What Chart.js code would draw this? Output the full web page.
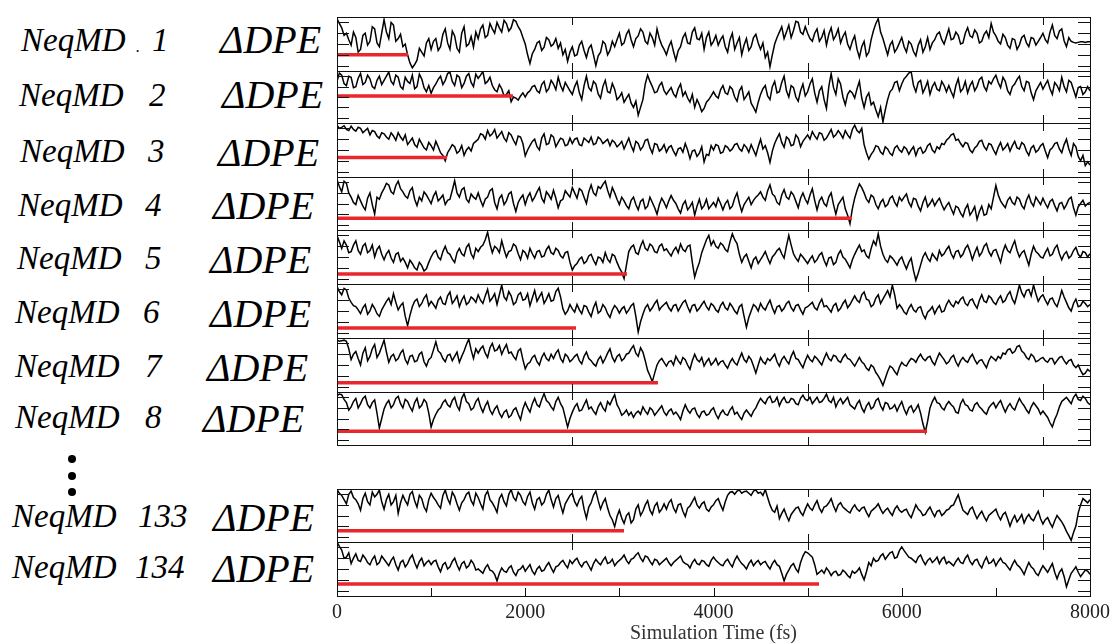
<!DOCTYPE html>
<html><head><meta charset="utf-8">
<script src="https://cdn.jsdelivr.net/npm/chart.js@4.4.1/dist/chart.umd.min.js"></script>
<style>
html,body{margin:0;padding:0;background:#fff;width:1112px;height:644px;overflow:hidden;}
#root{position:relative;width:1112px;height:644px;}
canvas{position:absolute;}
.lab{position:absolute;font-family:"Liberation Serif","Times New Roman",serif;font-style:italic;color:#000;line-height:1;white-space:nowrap;}
.dot{position:absolute;width:8px;height:8px;border-radius:50%;background:#000;}
</style></head><body>
<div id="root"></div>
<script>
// ---------- data ----------
const times = [
0,50,100,150,200,250,300,350,400,450,
500,550,600,650,700,750,800,850,900,950,
1000,1050,1100,1150,1200,1250,1300,1350,1400,1450,
1500,1550,1600,1650,1700,1750,1800,1850,1900,1950,
2000,2050,2100,2150,2200,2250,2300,2350,2400,2450,
2500,2550,2600,2650,2700,2750,2800,2850,2900,2950,
3000,3050,3100,3150,3200,3250,3300,3350,3400,3450,
3500,3550,3600,3650,3700,3750,3800,3850,3900,3950,
4000,4050,4100,4150,4200,4250,4300,4350,4400,4450,
4500,4550,4600,4650,4700,4750,4800,4850,4900,4950,
5000,5050,5100,5150,5200,5250,5300,5350,5400,5450,
5500,5550,5600,5650,5700,5750,5800,5850,5900,5950,
6000,6050,6100,6150,6200,6250,6300,6350,6400,6450,
6500,6550,6600,6650,6700,6750,6800,6850,6900,6950,
7000,7050,7100,7150,7200,7250,7300,7350,7400,7450,
7500,7550,7600,7650,7700,7750,7800,7850,7900,7950,
8000];
const midTimes = [
25,75,125,175,225,275,325,375,425,475,
525,575,625,675,725,775,825,875,925,975,
1025,1075,1125,1175,1225,1275,1325,1375,1425,1475,
1525,1575,1625,1675,1725,1775,1825,1875,1925,1975,
2025,2075,2125,2175,2225,2275,2325,2375,2425,2475,
2525,2575,2625,2675,2725,2775,2825,2875,2925,2975,
3025,3075,3125,3175,3225,3275,3325,3375,3425,3475,
3525,3575,3625,3675,3725,3775,3825,3875,3925,3975,
4025,4075,4125,4175,4225,4275,4325,4375,4425,4475,
4525,4575,4625,4675,4725,4775,4825,4875,4925,4975,
5025,5075,5125,5175,5225,5275,5325,5375,5425,5475,
5525,5575,5625,5675,5725,5775,5825,5875,5925,5975,
6025,6075,6125,6175,6225,6275,6325,6375,6425,6475,
6525,6575,6625,6675,6725,6775,6825,6875,6925,6975,
7025,7075,7125,7175,7225,7275,7325,7375,7425,7475,
7525,7575,7625,7675,7725,7775,7825,7875,7925,7975];

const runLabels = ["NeqMD","NeqMD","NeqMD","NeqMD","NeqMD","NeqMD","NeqMD","NeqMD","NeqMD","NeqMD"];
const runIds = ["1","2","3","4","5","6","7","8","133","134"];
const quantityLabel = "\u0394DPE";

const dpe1 = [
97,80,70,48,62,40,70,55,78,45,
95,60,85,60,45,30,6,20,35,52,
40,60,45,78,40,65,35,82,50,44,
60,85,66,78,90,72,88,80,92,75,
50,14,40,55,44,58,50,42,30,18,
45,30,55,25,48,10,35,50,38,45,
70,52,76,45,65,72,50,62,78,48,
30,55,20,45,70,50,80,58,40,72,
55,48,65,35,70,52,30,60,45,68,
40,25,8,50,72,60,85,75,90,68,
70,55,78,62,48,80,66,52,72,40,
65,25,55,35,75,97,60,30,55,42,
62,35,50,28,58,45,40,58,72,50,
78,60,66,52,80,62,70,55,74,88,
65,50,62,42,58,48,66,45,60,55,
70,52,85,60,78,45,55,52,54,53,
54];
const dpe1Mid = [
88,66,58,72,35,66,48,82,52,70,
72,90,55,68,50,15,12,42,28,60,
55,38,68,52,74,42,70,46,64,72,
78,62,88,70,80,94,74,95,82,62,
30,32,52,38,62,46,60,52,40,35,
28,48,38,42,30,28,55,30,55,58,
48,68,58,60,78,55,70,48,60,40,
45,36,38,62,52,72,60,70,62,48,
66,58,45,58,40,62,48,38,62,52,
52,35,30,62,82,72,62,92,72,82,
60,70,55,75,68,58,78,64,50,55,
40,45,28,58,88,72,45,48,35,52,
45,55,36,48,35,62,52,68,58,64,
58,72,50,70,65,76,52,68,62,72,
55,68,48,60,40,62,52,62,48,62,
58,72,66,74,56,62,53,53,54,54];
const dpe2 = [
80,92,72,88,70,95,78,85,66,90,
82,98,74,88,65,80,92,70,85,60,
57,75,90,82,98,72,88,76,95,70,
86,99,80,72,60,66,55,41,48,52,
50,62,72,58,80,66,75,88,62,70,
55,80,45,90,62,75,48,82,58,65,
50,40,55,30,15,45,92,70,60,78,
55,68,50,75,60,40,30,35,28,45,
60,48,72,55,65,42,70,52,38,21,
55,72,45,80,60,90,50,68,42,75,
60,85,40,70,28,95,55,75,35,62,
48,80,30,58,40,12,2,45,65,80,
75,90,99,60,82,68,55,78,62,72,
72,50,85,66,58,80,70,88,62,75,
92,68,80,55,75,90,62,78,45,70,
65,82,55,72,88,60,78,50,70,60,
62];
const dpe2Mid = [
96,76,90,68,86,74,92,70,82,74,
90,80,92,70,88,76,66,94,68,72,
68,84,74,95,80,92,68,90,78,94,
92,76,88,64,74,52,62,50,44,58,
58,70,62,74,60,82,64,72,78,62,
70,58,72,68,80,56,70,60,76,45,
58,48,38,42,30,75,80,58,72,62,
62,56,66,52,48,55,45,22,40,52,
52,64,58,70,50,62,45,60,30,40,
66,52,70,58,78,62,72,50,62,52,
75,58,62,45,70,68,85,50,55,58,
66,48,50,35,25,30,25,60,78,62,
85,96,72,78,58,80,70,65,80,60,
60,72,60,80,72,62,84,70,80,85,
78,88,62,70,84,70,80,58,62,78,
74,66,78,62,70,82,64,68,55,70];
const dpe3 = [
96,92,88,94,85,90,86,78,84,72,
80,70,76,82,68,60,72,55,62,50,
58,66,45,30,52,56,48,40,55,62,
70,78,86,80,72,84,66,78,60,74,
39,58,70,50,80,62,74,64,70,60,
62,72,58,68,74,62,70,66,58,64,
60,52,72,48,62,56,70,44,60,52,
46,58,40,54,62,34,50,44,28,40,
50,58,46,55,52,62,48,55,60,40,
70,58,27,62,80,55,70,60,72,66,
78,84,70,80,72,88,78,80,86,72,
96,82,60,33,48,56,42,52,40,58,
46,52,50,40,55,48,62,45,52,60,
72,80,70,56,62,45,58,68,50,60,
42,64,55,48,66,52,60,40,58,50,
62,36,54,64,45,70,40,56,30,21,
22];
const dpe3Mid = [
90,95,86,88,92,82,90,86,76,82,
74,82,68,74,78,66,60,70,54,64,
50,56,40,45,60,44,58,50,48,66,
80,70,76,88,78,72,82,68,76,62,
50,66,56,72,60,78,56,72,58,72,
70,60,72,64,60,74,62,70,68,56,
66,62,58,66,50,68,54,62,48,60,
55,48,52,46,50,48,38,56,42,58,
60,44,58,48,60,52,60,46,50,56,
52,45,48,72,64,74,58,78,56,72,
70,76,82,68,80,74,86,72,78,88,
86,90,45,42,58,46,56,44,54,50,
56,42,56,52,44,58,50,56,62,68,
78,68,62,64,50,54,66,56,62,50,
55,50,62,58,54,64,48,54,46,58,
48,50,62,52,60,52,62,38,40,28];
const dpe4 = [
95,72,88,62,48,55,38,70,30,58,
78,85,68,92,72,60,80,46,55,66,
50,72,60,48,58,93,62,80,52,62,
70,45,62,78,40,66,55,72,35,60,
48,70,62,80,52,66,75,42,58,68,
80,60,74,50,85,65,78,92,62,70,
48,55,40,62,38,58,45,52,30,60,
42,65,50,32,55,44,28,58,46,40,
52,60,38,56,45,70,35,55,48,62,
72,56,85,64,48,76,58,66,42,70,
50,78,38,62,45,70,30,55,40,12,
60,87,70,52,62,40,58,48,64,45,
55,68,44,58,36,62,50,46,60,38,
52,30,42,25,48,35,20,45,30,40,
84,55,42,62,48,58,40,66,45,55,
60,42,58,36,52,48,62,28,50,45,
52];
const dpe4Mid = [
82,92,70,52,65,45,60,48,62,70,
88,72,84,78,64,74,58,62,72,58,
64,55,66,56,75,70,76,58,68,58,
56,58,74,52,60,48,68,50,52,66,
62,55,72,60,72,58,60,55,74,62,
70,78,62,72,70,82,86,75,80,58,
62,46,56,48,54,40,62,42,48,52,
55,56,40,48,38,52,45,40,58,46,
44,50,50,40,60,50,48,62,56,66,
62,74,68,52,66,62,72,54,60,58,
66,56,55,50,62,48,48,62,28,40,
75,80,58,66,48,52,44,60,52,62,
62,52,60,45,52,44,58,54,48,46,
40,45,32,40,28,44,35,28,48,62,
66,48,56,52,62,46,56,52,62,48,
50,54,46,50,40,58,42,44,56,50];
const dpe5 = [
90,66,72,60,80,55,75,62,50,70,
45,62,40,58,48,30,38,26,34,28,
50,62,45,70,55,40,66,52,74,48,
60,72,96,58,66,80,50,62,70,45,
58,66,48,62,52,70,55,62,48,60,
26,38,50,42,55,36,48,58,40,52,
30,10,60,72,55,80,62,70,58,74,
65,52,68,74,60,72,13,40,70,90,
80,66,72,60,93,75,40,55,30,50,
45,60,38,55,66,48,90,56,42,50,
38,52,45,58,34,50,40,62,46,30,
55,72,63,48,80,93,55,40,48,35,
50,28,48,7,35,58,42,50,62,56,
70,48,62,55,72,45,68,58,75,52,
64,40,72,58,80,50,62,35,70,56,
48,66,55,72,45,60,52,68,50,58,
56];
const dpe5Mid = [
78,80,58,72,62,70,58,72,64,55,
56,48,55,42,40,44,30,40,24,40,
58,50,60,58,46,58,56,68,56,66,
68,82,74,70,58,64,60,74,56,62,
48,56,60,50,64,58,66,52,58,40,
34,46,38,52,44,50,40,46,55,40,
22,35,68,58,70,66,74,60,70,62,
58,62,58,64,70,40,28,58,82,72,
70,76,64,78,82,55,50,42,45,38,
52,48,50,62,56,70,72,48,55,44,
46,40,54,44,48,36,55,50,38,45,
64,60,52,66,72,70,45,52,42,45,
38,40,25,20,50,48,56,44,52,64,
56,60,50,66,60,58,52,70,60,62,
52,60,62,70,62,58,48,55,60,50,
58,52,66,56,55,48,62,55,60,50];
const dpe6 = [
95,80,89,66,58,45,62,50,55,40,
60,74,82,52,65,23,58,72,64,80,
68,55,76,62,85,70,58,78,66,72,
80,64,90,74,62,98,70,78,66,84,
72,60,88,76,64,82,70,92,54,50,
54,62,45,58,40,66,50,56,38,60,
46,58,52,64,11,44,62,56,70,58,
66,50,62,58,70,48,62,55,68,52,
60,48,66,52,58,45,62,20,50,58,
64,52,70,46,60,55,68,50,62,44,
58,66,52,72,60,48,64,55,70,62,
78,66,85,70,62,80,72,88,98,55,
56,44,62,48,58,36,52,45,60,50,
70,58,64,76,60,72,55,80,66,74,
62,78,70,86,64,98,76,90,98,68,
80,62,74,58,88,66,50,72,60,64,
62];
const dpe6Mid = [
86,92,74,60,52,56,44,62,45,52,
68,62,66,60,40,42,68,58,74,60,
62,70,64,78,64,78,70,62,76,66,
70,78,68,82,80,76,86,62,80,70,
82,74,68,84,72,68,86,76,44,62,
48,52,60,48,56,46,62,45,52,55,
54,46,60,40,30,56,50,64,52,62,
56,60,50,66,58,60,50,62,58,64,
52,60,56,64,50,58,40,38,62,50,
56,62,56,58,50,64,56,60,52,56,
62,56,64,58,54,60,50,64,56,70,
70,80,72,58,74,64,80,76,80,62,
48,55,52,56,44,48,58,54,48,62,
62,68,72,64,70,62,70,68,78,66,
72,66,80,72,80,84,88,78,82,76,
70,72,64,72,76,56,64,58,68,58];
const dpe7 = [
96,95,94,60,75,50,82,66,88,72,
96,55,70,62,78,52,68,58,74,48,
64,93,72,56,70,66,55,76,98,62,
72,85,64,90,78,70,88,74,60,80,
43,55,68,50,72,58,62,78,55,66,
60,70,52,74,58,48,66,62,80,56,
70,62,72,86,66,74,40,19,50,62,
48,58,66,52,60,42,70,56,48,62,
55,50,58,44,62,50,72,55,60,35,
64,52,58,70,48,66,52,75,60,45,
68,56,62,50,72,58,66,55,70,60,
48,64,52,40,46,30,12,38,45,32,
55,48,62,55,70,58,66,50,72,60,
56,68,48,64,55,70,52,60,45,66,
58,62,70,80,75,86,72,60,66,58,
64,55,62,58,66,52,60,45,40,35,
38];
const dpe7Mid = [
94,96,80,70,62,72,58,80,64,84,
74,66,58,72,60,66,56,70,56,60,
78,76,62,68,58,74,66,88,78,80,
80,72,82,76,86,80,72,66,76,60,
52,64,56,64,62,70,72,62,70,56,
66,58,66,62,52,60,54,72,64,66,
58,70,80,72,82,58,30,35,58,55,
56,50,58,64,50,58,60,64,56,50,
62,56,50,55,54,62,60,66,48,50,
56,62,64,56,60,58,66,62,52,58,
60,66,56,62,62,68,58,64,62,54,
56,56,44,50,36,22,25,48,38,46,
50,56,60,64,62,64,56,62,66,52,
64,56,58,58,64,60,58,52,58,62,
66,72,78,72,84,76,64,70,56,62,
58,62,52,64,58,58,50,50,32,42];
const dpe8 = [
93,95,80,72,88,78,92,70,85,32,
68,84,76,92,70,82,64,88,75,80,
34,58,70,85,72,90,66,97,78,70,
88,62,82,58,74,52,66,56,70,48,
80,62,88,72,97,80,66,90,70,34,
62,78,66,85,72,58,80,64,76,95,
68,60,56,52,64,72,58,66,62,74,
56,68,62,48,76,60,70,52,64,58,
70,50,66,56,72,62,48,66,54,70,
88,78,92,82,74,90,80,86,76,94,
84,78,90,82,96,80,72,88,84,76,
68,84,62,80,72,88,66,78,70,64,
82,58,74,68,60,24,70,90,78,66,
82,72,60,86,74,64,80,68,58,76,
70,84,62,78,66,88,74,60,80,68,
64,52,34,58,82,90,78,96,84,88,
76];
const dpe8Mid = [
96,86,66,82,70,88,76,80,60,50,
78,70,88,78,86,72,80,70,86,60,
48,66,80,76,84,74,88,82,66,82,
72,74,66,68,60,62,52,66,58,68,
70,78,76,86,84,72,82,78,52,50,
72,64,76,68,64,72,70,82,86,76,
56,66,62,60,58,64,70,56,68,62,
64,58,56,64,66,68,58,62,56,66,
58,60,58,66,58,54,60,60,64,80,
82,88,80,90,84,80,88,78,88,86,
90,84,80,88,84,90,82,78,90,72,
78,70,74,68,84,74,80,68,76,74,
68,70,62,76,40,45,82,80,70,76,
76,62,78,76,66,76,72,62,70,80,
78,72,72,70,78,80,66,72,74,58,
58,42,48,72,86,84,90,86,92,80];
const dpe133 = [
99,88,72,96,80,60,92,70,85,98,
62,90,76,54,88,70,95,66,82,58,
92,78,64,98,72,86,60,80,94,70,
84,62,96,74,56,90,68,99,78,88,
70,94,62,84,75,98,66,88,55,80,
92,68,86,45,74,96,62,82,50,29,
60,35,55,42,70,58,78,52,74,62,
62,80,56,72,48,68,84,64,76,58,
70,82,60,88,95,96,92,96,88,98,
94,99,70,56,44,62,40,58,66,50,
72,60,78,56,68,82,58,74,62,55,
70,58,66,48,62,72,54,64,50,68,
56,62,46,70,58,52,66,48,60,54,
62,70,89,60,52,66,44,58,40,54,
62,42,56,30,50,44,36,52,40,58,
34,46,28,50,38,20,3,30,70,78,
80];
const dpe133Mid = [
92,80,90,84,72,82,76,94,90,76,
80,70,88,74,78,90,78,88,66,80,
84,70,88,82,94,72,74,90,78,92,
72,88,80,66,82,76,90,84,94,76,
86,74,80,70,90,80,82,70,72,88,
76,80,62,66,88,78,74,64,42,48,
45,50,36,62,50,70,60,68,56,72,
74,64,70,58,64,76,70,72,62,66,
78,70,76,94,90,98,95,92,96,92,
88,84,60,68,54,50,52,64,56,62,
64,70,64,66,74,68,70,66,58,64,
62,64,56,58,66,62,60,56,62,60,
60,52,58,62,50,60,56,58,50,60,
68,80,74,56,62,54,52,48,50,58,
50,52,44,42,38,52,46,44,50,44,
42,36,40,44,30,12,18,55,82,74];
const dpe134 = [
100,85,72,60,78,64,70,58,74,62,
68,56,72,48,66,60,76,52,70,62,
58,66,45,62,54,70,48,64,56,60,
50,42,58,46,28,52,44,56,38,50,
46,58,40,55,48,62,44,56,66,52,
60,70,54,64,48,68,58,72,62,56,
66,76,60,70,80,64,72,58,66,62,
70,56,66,74,60,52,68,58,64,55,
72,62,56,68,54,74,60,50,66,62,
58,64,50,66,55,28,48,60,44,74,
80,72,40,48,52,38,46,40,44,34,
42,52,30,62,70,66,78,74,82,72,
91,78,70,62,76,58,70,66,60,72,
64,56,70,60,76,58,68,52,72,62,
56,70,60,48,66,54,40,62,50,38,
56,44,60,32,50,17,42,54,36,48,
40];
const dpe134Mid = [
92,70,80,70,66,76,62,68,58,74,
62,66,58,62,54,70,62,64,56,66,
64,54,58,50,64,58,60,52,66,48,
46,52,48,40,42,46,52,44,48,56,
52,46,50,46,56,52,54,62,58,66,
66,60,62,56,60,62,66,60,68,62,
70,66,68,76,70,74,64,68,58,66,
62,62,70,64,58,62,60,66,58,66,
66,58,64,60,66,66,56,60,56,66,
62,56,60,58,42,40,56,50,62,82,
76,58,44,42,46,44,38,48,38,46,
46,40,45,56,64,74,68,80,70,84,
84,72,66,72,66,66,62,72,68,60,
60,64,62,70,64,66,58,64,60,68,
64,62,54,58,58,48,52,54,42,48,
50,52,44,44,36,30,48,44,42,46];

const series = [dpe1, dpe2, dpe3, dpe4, dpe5, dpe6, dpe7, dpe8, dpe133, dpe134];
const seriesMid = [dpe1Mid, dpe2Mid, dpe3Mid, dpe4Mid, dpe5Mid, dpe6Mid, dpe7Mid, dpe8Mid, dpe133Mid, dpe134Mid];
const redLevels = [30, 52, 36, 22, 18.5, 18.5, 17, 26, 21, 22];
const redEnds = [754, 1870, 1169, 5471, 3081, 2539, 3410, 6268, 3049, 5121];
const xTickLabels = [0, 2000, 4000, 6000, 8000];
const panelMajorTicks = [2500, 5000, 7500];
const bottomMinorTicks = [1000, 2000, 3000, 4000, 5000, 6000, 7000];
const yTickValues = [10, 30, 50, 70, 90];
const xTitle = "Simulation Time (fs)";

// ---------- layout ----------
const panelBoxes = [[17,71],[71,123],[123,177],[177,230],[230,284],[284,338],[338,392],[392,445],[489,542],[542,596]];
// [nameLeft, idLeft, dpeLeft, nameBaseline, dpeBaseline]
const labelLayout = [
  [21,152,220,52,53],[19,149,222,107,108],[20,148,218,163,166],[18,145,213,217,219],
  [17,145,210,270,273],[15,143,210,324,327],[15,145,207,378,381],[15,145,203,429,432],
  [12,138,213,528,531],[12,135,213,579,582]
];
const root = document.getElementById('root');

function addText(txt, left, baseline, size) {
  const d = document.createElement('div');
  d.className = 'lab';
  d.textContent = txt;
  d.style.fontSize = size + 'px';
  d.style.left = left + 'px';
  d.style.top = (baseline - 0.8375 * size) + 'px';
  root.appendChild(d);
}
runLabels.forEach((name, i) => {
  const L = labelLayout[i];
  addText(name, L[0], L[3], 33);
  addText(runIds[i], L[1], L[3], 33);
  addText(quantityLabel, L[2], L[4], 40);
});
addText(".", 136, 52, 16);
[459, 476, 492].forEach(cy => {
  const d = document.createElement('div');
  d.className = 'dot';
  d.style.left = (72 - 4) + 'px';
  d.style.top = (cy - 4) + 'px';
  root.appendChild(d);
});

const framePlugin = {
  id: 'frame',
  afterDraw(chart, args, opts) {
    const {ctx, chartArea: a, scales: {x, y}} = chart;
    ctx.save();
    ctx.strokeStyle = '#111';
    ctx.lineWidth = 1;
    ctx.beginPath();
    for (const v of opts.yTicks) {
      const py = Math.round(y.getPixelForValue(v)) + 0.5;
      ctx.moveTo(a.left, py); ctx.lineTo(a.left + 12, py);
      ctx.moveTo(a.right, py); ctx.lineTo(a.right - 12, py);
    }
    for (const v of opts.topTicks) {
      const px = Math.round(x.getPixelForValue(v)) + 0.5;
      ctx.moveTo(px, a.top); ctx.lineTo(px, a.top + 8);
    }
    for (const v of opts.bottomTicks) {
      const px = Math.round(x.getPixelForValue(v)) + 0.5;
      ctx.moveTo(px, a.bottom); ctx.lineTo(px, a.bottom - 8);
    }
    ctx.stroke();
    ctx.strokeRect(Math.round(a.left) + 0.5, Math.round(a.top) + 0.5,
                   Math.round(a.right - a.left), Math.round(a.bottom - a.top));
    ctx.restore();
  }
};

function buildPoints(vals, mids) {
  const pts = [];
  for (let k = 0; k < times.length; k++) {
    pts.push({x: times[k], y: vals[k]});
    if (k < midTimes.length) pts.push({x: midTimes[k], y: mids[k]});
  }
  return pts;
}

series.forEach((vals, i) => {
  const isBottom = i === series.length - 1;
  const [t, b] = panelBoxes[i];
  const cv = document.createElement('canvas');
  const top = t - 3;
  const h = isBottom ? 644 - top : (b - t) + 6;
  cv.width = 802; cv.height = h;
  cv.style.left = '310px'; cv.style.top = top + 'px';
  cv.style.width = '802px'; cv.style.height = h + 'px';
  root.appendChild(cv);
  const xScale = {
    type: 'linear', min: 0, max: 8000, display: isBottom,
    grid: {display: false}, border: {display: false}
  };
  if (isBottom) {
    xScale.afterBuildTicks = s => { s.ticks = xTickLabels.map(v => ({value: v})); };
    xScale.afterFit = s => { s.height = 48; };
    xScale.ticks = {color: '#222', padding: -3, maxRotation: 0,
                    callback: v => String(v),
                    font: {family: 'Liberation Serif', size: 20, lineHeight: 1.2}};
    xScale.title = {display: true, text: xTitle, color: '#333', padding: {top: 0, bottom: 0},
                    font: {family: 'Liberation Serif', size: 20, lineHeight: 1.0}};
  }
  new Chart(cv, {
    type: 'line',
    data: {
      datasets: [
        { data: [{x: 0, y: redLevels[i]}, {x: redEnds[i], y: redLevels[i]}],
          borderColor: '#e8262c', borderWidth: 3.5, pointRadius: 0, order: 0, borderCapStyle: 'butt' },
        { data: buildPoints(vals, seriesMid[i]),
          borderColor: '#000', borderWidth: 1.5, pointRadius: 0, tension: 0, order: 1 }
      ]
    },
    options: {
      responsive: false, animation: false, events: [],
      devicePixelRatio: 1,
      layout: {padding: {left: 27, right: 22, top: 3, bottom: isBottom ? 0 : 3}},
      plugins: {
        legend: {display: false}, tooltip: {enabled: false},
        frame: {
          yTicks: yTickValues,
          topTicks: panelMajorTicks,
          bottomTicks: isBottom ? bottomMinorTicks : panelMajorTicks
        }
      },
      scales: {
        x: xScale,
        y: {min: 0, max: 100, display: false}
      }
    },
    plugins: [framePlugin]
  });
});
</script>
</body></html>
